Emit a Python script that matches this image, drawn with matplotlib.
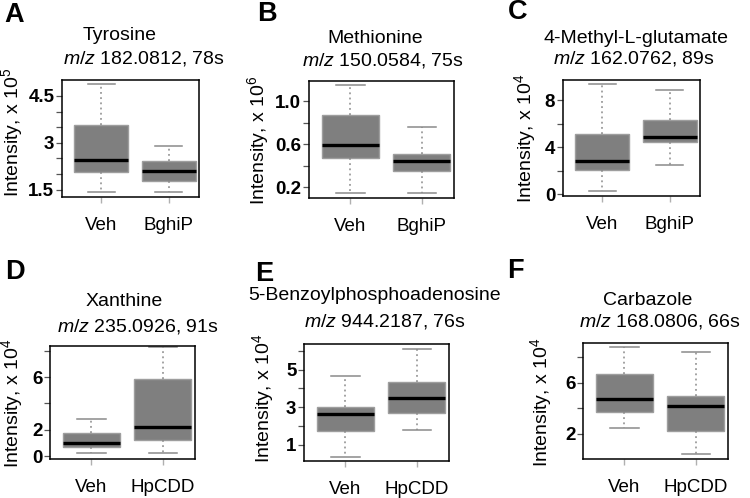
import matplotlib
matplotlib.use("Agg")
import matplotlib.pyplot as plt

plt.rcParams['font.family'] = ['Liberation Sans', 'DejaVu Sans']
plt.rcParams['mathtext.fontset'] = 'custom'
plt.rcParams['mathtext.rm'] = 'Liberation Sans'
plt.rcParams['mathtext.it'] = 'Liberation Sans:italic'
plt.rcParams['mathtext.bf'] = 'Liberation Sans:bold'

W, H = 750, 498

# ---------------- data ----------------
letters = ["A", "B", "C", "D", "E", "F"]
names = ["Tyrosine", "Methionine", "4-Methyl-L-glutamate",
         "Xanthine", "5-Benzoylphosphoadenosine", "Carbazole"]
mz_info = ["182.0812, 78s", "150.0584, 75s", "162.0762, 89s",
           "235.0926, 91s", "944.2187, 76s", "168.0806, 66s"]
exponents = ["5", "6", "4", "4", "4", "4"]
groups_top = ["Veh", "BghiP"]
groups_bottom = ["Veh", "HpCDD"]

# box statistics per panel: [group1, group2]
whislo = [[1.425, 1.425], [0.15, 0.15], [0.25, 2.5],
          [0.25, 0.25], [0.36, 1.79], [2.47, 0.44]]
q1 = [[2.05, 1.76], [0.467, 0.349], [2.08, 4.48],
      [0.74, 1.25], [1.71, 2.70], [3.71, 2.23]]
med = [[2.46, 2.08], [0.59, 0.445], [2.81, 4.88],
       [1.04, 2.20], [2.66, 3.48], [4.73, 4.16]]
q3 = [[3.57, 2.42], [0.87, 0.513], [5.13, 6.32],
      [1.77, 5.87], [3.02, 4.32], [6.68, 4.99]]
whishi = [[4.875, 2.89], [1.146, 0.761], [9.33, 8.88],
          [2.86, 8.30], [4.64, 6.125], [8.80, 8.42]]

yticks_all = [[1.5, 2.0, 2.5, 3.0, 3.5, 4.0, 4.5],
              [0.2, 0.4, 0.6, 0.8, 1.0],
              [0, 2, 4, 6, 8],
              [0, 2, 4, 6, 8],
              [1, 2, 3, 4, 5, 6],
              [2, 4, 6, 8]]
ylabels_all = [["1.5", "", "", "3", "", "", "4.5"],
               ["0.2", "", "0.6", "", "1.0"],
               ["0", "", "4", "", "8"],
               ["0", "2", "", "6", ""],
               ["1", "", "3", "", "5", ""],
               ["2", "", "6", ""]]
ylims = [(1.26, 5.01), (0.10, 1.186), (-0.14, 9.7),
         (-0.2, 8.35), (0.125, 6.375), (0.03, 9.12)]

# ---------------- layout (pixels) ----------------
axes_px = [(62, 80, 199, 197), (309, 81, 454, 198), (563, 80, 700, 196),
           (50, 346, 195, 459), (304, 344, 449, 461), (583, 343, 728, 459)]
letter_px = [(4, 15), (257, 14), (508, 12), (5, 272), (255, 274), (507, 271)]
title1_px = [(120, 36), (375, 38), (636, 38), (124, 302), (375, 296), (648, 300)]
title2_px = [(144, 58), (383, 60), (634, 59), (138, 326), (385, 321), (660, 321)]
ylab_px = [(25, 132), (271, 140), (538, 138), (25, 403), (276, 398), (554, 402)]

fig = plt.figure(figsize=(W / 100, H / 100), dpi=100)

box_face = "#7f7f7f"
box_edge = "#9e9e9e"

for i in range(6):
    l, t, r, b = axes_px[i]
    ax = fig.add_axes([l / W, 1 - b / H, (r - l) / W, (b - t) / H])
    groups = groups_top if i < 3 else groups_bottom
    stats = []
    for g in range(2):
        stats.append(dict(label=groups[g], whislo=whislo[i][g], q1=q1[i][g],
                          med=med[i][g], q3=q3[i][g], whishi=whishi[i][g],
                          fliers=[]))
    ax.bxp(stats, positions=[1, 2], widths=0.8, capwidths=0.4,
           showfliers=False, patch_artist=True,
           boxprops=dict(facecolor=box_face, edgecolor=box_edge, linewidth=1.0),
           medianprops=dict(color="black", linewidth=2.4, solid_capstyle="butt"),
           whiskerprops=dict(color="#8a8a8a", linewidth=1.1, linestyle=(0, (1.2, 2.2))),
           capprops=dict(color="#8a8a8a", linewidth=1.1))
    ax.set_xlim(0.42, 2.45)
    ax.set_ylim(*ylims[i])
    ax.set_xticks([1, 2])
    ax.set_xticklabels(groups, fontsize=13.5)
    ax.tick_params(axis="x", length=4, color="#b0b0b0", pad=10.5, width=1)
    ax.set_yticks(yticks_all[i])
    ax.set_yticklabels(ylabels_all[i], fontsize=13.5, fontweight="bold")
    ax.tick_params(axis="y", length=4, color="#555555", pad=1.5, width=0.9)
    for s in ax.spines.values():
        s.set_linewidth(1.1)
        s.set_color("black")
    ax.set_ylabel("Intensity, x 10$^{" + exponents[i] + "}$", fontsize=14)
    ax.yaxis.set_label_coords((ylab_px[i][0] - l) / (r - l),
                              (b - ylab_px[i][1]) / (b - t))

    lx, ly = letter_px[i]
    fig.text(lx / W, 1 - ly / H, letters[i], fontsize=19.5, fontweight="bold",
             ha="left", va="center")
    tx, ty = title1_px[i]
    fig.text(tx / W, 1 - ty / H, names[i], fontsize=14, ha="center", va="center")
    tx, ty = title2_px[i]
    fig.text(tx / W, 1 - ty / H, "$m/z$ " + mz_info[i], fontsize=14,
             ha="center", va="center")

fig.savefig("out.png", dpi=100)
